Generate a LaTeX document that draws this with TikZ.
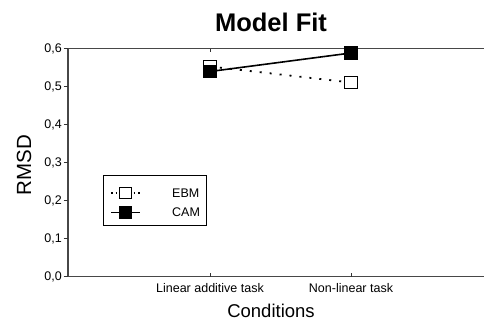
\documentclass[tikz,border=0pt]{standalone}
\usepackage{fontspec}
\setmainfont{Liberation Sans}
\begin{document}
\begin{tikzpicture}[x=1pt,y=-1pt,
  axis/.style={draw=black!72,line width=1.3pt},
  tick/.style={draw=black!80,line width=0.9pt},
  ticklab/.style={font=\fontsize{12.5}{14}\selectfont,inner sep=0pt},
  mk/.style={rectangle,draw=black,line width=1.3pt,minimum size=12.5pt,inner sep=0pt},
  ebm/.style={mk,fill=white},
  cam/.style={mk,fill=black},
  camline/.style={draw=black,line width=1.6pt},
  ebmline/.style={draw=black,line width=1.8pt,dash pattern=on 2pt off 8pt},
]
\useasboundingbox (0,0) rectangle (484,322);

% frame: left axis, top rule and bottom axis
\draw[axis] (68,48.5) -- (68,276.5) -- (484,276.5);
\draw[axis] (68,48.5) -- (484,48.5);

% y ticks and labels
\foreach \i in {0,...,6}{
  \draw[tick] (63.5,276.5-38*\i) -- (68,276.5-38*\i);
  \node[ticklab,anchor=east] (yl\i) at (62,276.5-38*\i) {0,\i};
}
% x ticks (inward on bottom and top)
\foreach \x in {210,351}{
  \draw[tick] (\x,276.5) -- (\x,273);
  \draw[tick] (\x,48.5) -- (\x,52);
}

% data points
\coordinate (pe1) at (210,66.5);
\coordinate (pc1) at (210,71.5);
\coordinate (pe2) at (351,82.5);
\coordinate (pc2) at (351,53);
\draw[ebmline] (pe1) -- (pe2);
\draw[camline] (pc1) -- (pc2);
\node[ebm] (e1) at (pe1) {};
\node[cam] (c1) at (pc1) {};
\node[ebm] (e2) at (pe2) {};
\node[cam] (c2) at (pc2) {};

% legend
\node[draw=black,line width=0.9pt,anchor=north west,minimum width=103pt,minimum height=50pt,inner sep=0pt] (legend) at (103,175) {};
\coordinate (leA) at (111,193);
\coordinate (leB) at (140,193);
\coordinate (lcA) at (111,212.5);
\coordinate (lcB) at (140,212.5);
\draw[draw=black,line width=1.5pt,dash pattern=on 1.5pt off 3pt] (leA) -- (leB);
\draw[camline] (lcA) -- (lcB);
\node[ebm,minimum size=11.5pt] (le) at (125.5,193) {};
\node[cam,minimum size=11.5pt] (lc) at (125.5,212.5) {};
\node[ticklab,anchor=west] (lte) at (172,193) {EBM};
\node[ticklab,anchor=west] (ltc) at (172,212.5) {CAM};

% axis and category labels
\node[ticklab] (x1) at (210,288) {Linear additive task};
\node[ticklab] (x2) at (351,288) {Non-linear task};
\node[font=\fontsize{18.5}{20}\selectfont,inner sep=0pt] (xt) at (271,311) {Conditions};
\node[font=\fontsize{20.5}{22}\selectfont,inner sep=0pt,rotate=90] (yt) at (24,165) {RMSD};
\node[font=\fontsize{25.5}{28}\selectfont\bfseries,inner sep=0pt] (title) at (271,22) {Model Fit};
\end{tikzpicture}
\end{document}
